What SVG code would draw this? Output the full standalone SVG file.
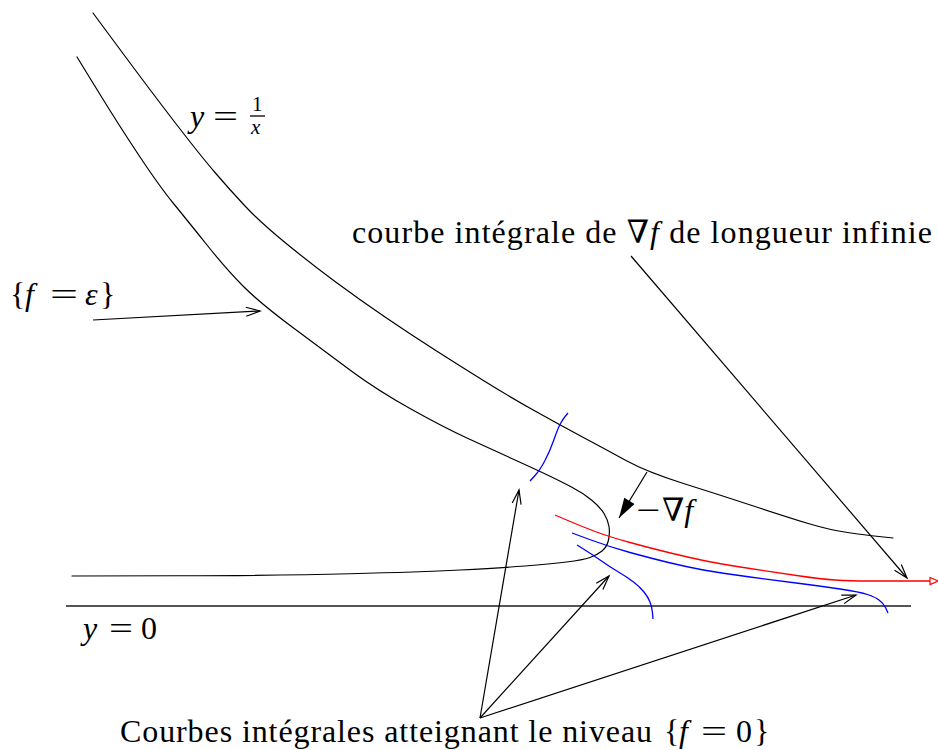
<svg xmlns="http://www.w3.org/2000/svg" width="938" height="750" viewBox="0 0 938 750">
<style>
text{font-family:"Liberation Serif","DejaVu Serif",serif;font-size:32px;fill:#000}
.it{font-style:italic}
.k{fill:none;stroke:#000;stroke-width:1.2;stroke-linejoin:round;stroke-linecap:round}
.b{fill:none;stroke:#0000ff;stroke-width:1.3;stroke-linejoin:round}
.r{fill:none;stroke:#ff0000;stroke-width:1.3;stroke-linejoin:round}
.ax{fill:none;stroke:#555;stroke-width:1.8}
.a{fill:none;stroke:#000;stroke-width:1.2;marker-end:url(#open)}
</style>
<defs>
<marker id="open" markerUnits="userSpaceOnUse" markerWidth="20" markerHeight="14" refX="0" refY="0" viewBox="-16 -7 20 14" orient="auto">
<path d="M-14,-4.5 L0,0 L-14,4.5" fill="none" stroke="#000" stroke-width="1.2"/>
</marker>
<marker id="filled" markerUnits="userSpaceOnUse" markerWidth="24" markerHeight="16" refX="0" refY="0" viewBox="-22 -8 24 16" orient="auto">
<path d="M-20,-6 L0,0 L-20,6 Z" fill="#000"/>
</marker>
</defs>
<g id="axis">
<line class="ax" x1="66" y1="606" x2="911" y2="606"/>
</g>
<g id="curve-hyperbola">
<path class="k" d="M93,13 L121.5,51.5 Q150,90 175,122.5 Q200,155 215,172.5 Q230,190 245,206 Q260,222 285,242.5 Q310,263 335,281.5 Q360,300 385,317 Q410,334 435,350 Q460,366 485,381.5 Q510,397 535,411 Q560,425 582.5,437 Q605,449 626,460.5 Q647,472 683.5,483.5 Q720,495 755,506.5 Q790,518 810,524 Q830,530 847.5,532.5 Q865,535 879,536.5 L893,538"/>
</g>
<g id="curve-level-eps">
<path class="k" d="M77,57 L98.5,92 Q120,127 140,157 Q160,187 173.5,203.5 Q187,220 207,245 Q227,270 243.5,286.5 Q260,303 293.5,328 Q327,353 352,371.5 Q377,390 410,408.5 Q443,427 468,438.5 Q493,450 515,460 Q537,470 548.5,475.5 Q560,481 571.5,487 Q583,493 591.5,500 Q600,507 604,513.5 Q608,520 609,526.5 Q610,533 608.5,540 Q607,547 602,551 Q597,555 590,557.5 Q583,560 566.5,562 Q550,564 525,566 Q500,568 460,570 Q420,572 350,573.75 Q280,575.5 176,575.75 L72,576"/>
</g>
<g id="integral-curves">
<path class="b" d="M530,481 L535,475.5 Q540,470 545,460.5 Q550,451 554,439.5 Q558,428 560.5,423.5 Q563,419 565.5,416 L568,413"/>
<path class="r" d="M555,515 L569,521 Q583,527 596.5,532 Q610,537 630,542.5 Q650,548 668.5,552.5 Q687,557 703.5,560.5 Q720,564 750,568.5 Q780,573 800,576 Q820,579 835,580 Q850,581 870,581 L930,581"/>
<polygon points="930,577.5 938,581 930,584.5" fill="#fff" stroke="#ff0000" stroke-width="1.2"/>
<path class="b" d="M572,533 L591,540 Q610,547 630,552.5 Q650,558 668.5,562.5 Q687,567 703.5,570 Q720,573 750,577 Q780,581 800,583.5 Q820,586 840,589 Q860,592 867.5,594.5 Q875,597 879,600 Q883,603 885.5,607.5 L888,613"/>
<path class="b" d="M577,545 L585,550 Q593,555 601.5,561 Q610,567 618.5,572 Q627,577 633.5,582 Q640,587 644,592 Q648,597 650,602 Q652,607 652.5,613 L653,619"/>
</g>
<g id="connectors">
<line class="a" x1="93" y1="320" x2="260" y2="311"/>
<line x1="647" y1="472" x2="619" y2="518" stroke="#000" stroke-width="1.2" marker-end="url(#filled)"/>
<line class="a" x1="631" y1="256" x2="907" y2="578"/>
<line class="a" x1="480" y1="718" x2="519" y2="490"/>
<line class="a" x1="480" y1="718" x2="609" y2="576"/>
<line class="a" x1="480" y1="718" x2="856" y2="595"/>
</g>
<g id="labels">
<text x="190" y="127" class="it">y</text>
<text x="213" y="127" textLength="25" lengthAdjust="spacingAndGlyphs">=</text>
<text x="252" y="111" style="font-size:21px">1</text>
<line x1="250" y1="116" x2="265" y2="116" stroke="#000" stroke-width="1.3"/>
<text x="251" y="134" class="it" style="font-size:21px">x</text>
<text x="352" y="243" textLength="580" lengthAdjust="spacing">courbe intégrale de ∇<tspan class="it">f</tspan> de longueur infinie</text>
<text x="10" y="305">{</text>
<text x="25" y="305" class="it">f</text>
<text x="50" y="305" textLength="28" lengthAdjust="spacingAndGlyphs">=</text>
<text x="85" y="305" class="it">ε</text>
<text x="100" y="305">}</text>
<text x="636" y="521" textLength="24" lengthAdjust="spacingAndGlyphs">−</text>
<text x="662" y="521">∇<tspan class="it">f</tspan></text>
<text x="83" y="639" class="it">y</text>
<text x="109" y="639" textLength="24" lengthAdjust="spacingAndGlyphs">=</text>
<text x="141" y="639">0</text>
<text x="120" y="742" textLength="532" lengthAdjust="spacing">Courbes intégrales atteignant le niveau</text>
<text x="664" y="742">{</text>
<text x="679" y="742" class="it">f</text>
<text x="701" y="742" textLength="26" lengthAdjust="spacingAndGlyphs">=</text>
<text x="736" y="742">0</text>
<text x="754" y="742">}</text>
</g>
</svg>
